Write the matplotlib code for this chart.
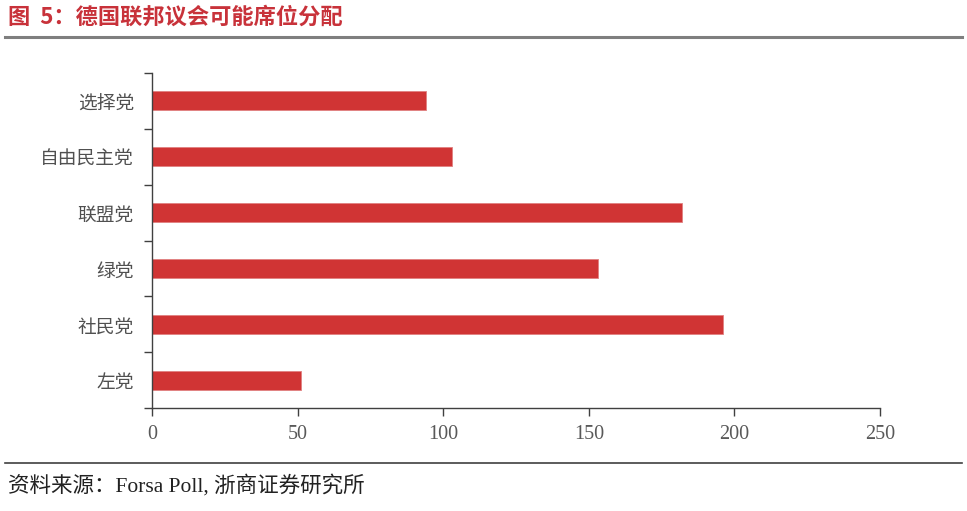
import matplotlib
matplotlib.use("Agg")
import matplotlib.pyplot as plt
import numpy as np
from matplotlib.lines import Line2D

parties = ["左党", "社民党", "绿党", "联盟党", "自由民主党", "选择党"]
seats = [51, 196, 153, 182, 103, 94]
xticks = [0, 50, 100, 150, 200, 250]

title = "图  5：德国联邦议会可能席位分配"
source = "资料来源：Forsa Poll, 浙商证券研究所"

plt.rcParams['font.family'] = ['Liberation Serif', 'Noto Sans CJK SC', 'DejaVu Sans']

fig = plt.figure(figsize=(9.67, 5.11), dpi=100)
ax = fig.add_axes([152/967, 1-408/511, (880-152)/967, (408-73)/511])

bar_color = "#d03434"
y = np.arange(len(parties))
ax.barh(y, seats, height=0.34, color=bar_color, edgecolor="#e08080", linewidth=0.6)

ax.set_xlim(0, 250)
ax.set_ylim(-0.5, len(parties) - 0.5)
ax.set_xticks(xticks)
ax.set_xticklabels([str(t) for t in xticks], fontsize=14.5, color="#595959")
ax.set_yticks(y)
ax.set_yticklabels(parties, fontsize=13.5, color="#505050",
                   family=['Noto Sans CJK SC', 'DejaVu Sans'])
ax.set_yticks(np.arange(-0.5, len(parties), 1.0), minor=True)
ax.tick_params(axis='y', which='major', length=0, pad=13)
ax.tick_params(axis='y', which='minor', length=6, width=1, color="#404040", direction='out')
ax.tick_params(axis='x', which='major', length=6, width=1, color="#404040", direction='out', pad=6)

for s in ['top', 'right']:
    ax.spines[s].set_visible(False)
for s in ['left', 'bottom']:
    ax.spines[s].set_color("#404040")
    ax.spines[s].set_linewidth(1)

fig.text(8/967, 1-17/511, title, fontsize=16, fontweight='bold', color="#c8323a",
         va='center', ha='left', family=['Noto Sans CJK SC', 'DejaVu Sans'])
fig.add_artist(Line2D([5/967, 962/967], [1-37/511, 1-37/511], color="#7f7f7f", linewidth=2.2,
                      transform=fig.transFigure))
fig.add_artist(Line2D([5/967, 962/967], [1-463/511, 1-463/511], color="#404040", linewidth=1.2,
                      transform=fig.transFigure))
fig.text(8/967, 1-486/511, source, fontsize=15.5, color="#222222", va='center', ha='left',
         family=['Liberation Serif', 'Noto Sans CJK SC', 'DejaVu Sans'])

fig.savefig("out.png", dpi=100)
